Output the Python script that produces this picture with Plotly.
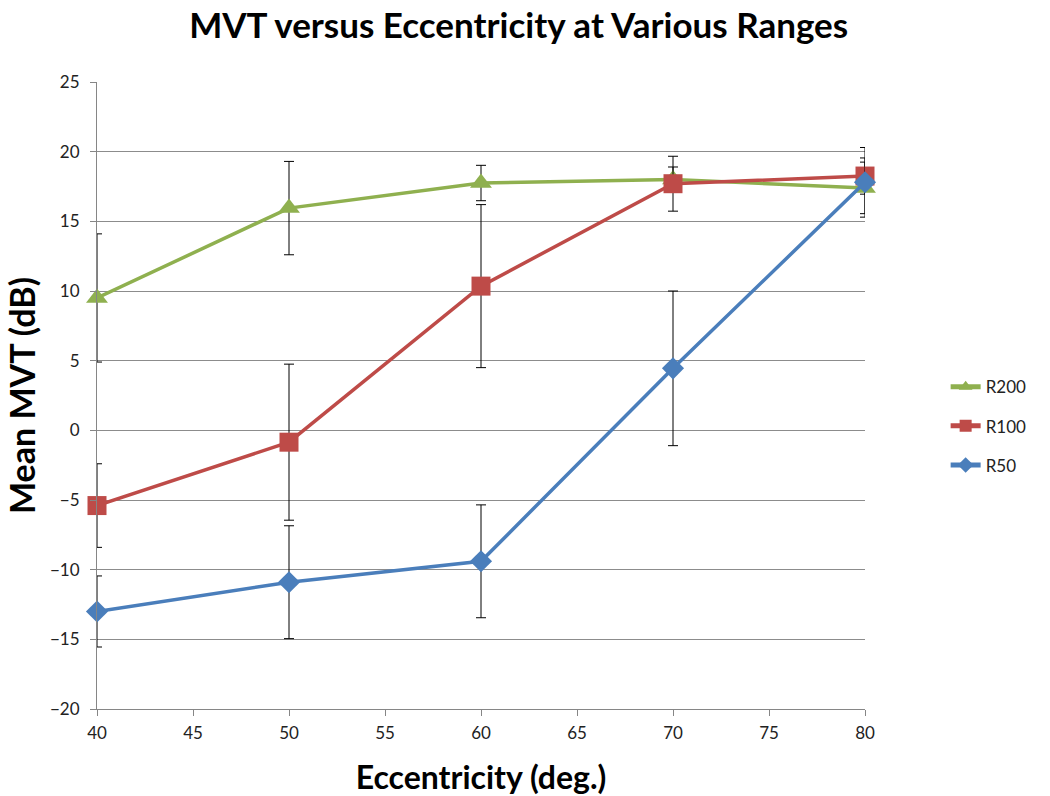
import plotly.graph_objects as go

# Eccentricity (deg.) sampled for each range
eccentricity = [40, 50, 60, 70, 80]

# Mean MVT (dB) and error-bar half-widths per range
r200_mean = [9.5, 15.95, 17.75, 18.0, 17.4]
r200_err = [4.6, 3.35, 1.27, 0.9, 1.85]

r100_mean = [-5.4, -0.85, 10.35, 17.7, 18.25]
r100_err = [3.0, 5.6, 5.85, 1.97, 1.3]

r50_mean = [-13.0, -10.9, -9.4, 4.45, 17.8]
r50_err = [2.55, 4.05, 4.05, 5.55, 2.5]

x_ticks = [40, 45, 50, 55, 60, 65, 70, 75, 80]
y_ticks = [-20, -15, -10, -5, 0, 5, 10, 15, 20, 25]

series = [
    ("R200", r200_mean, r200_err, "#8FB04F", "triangle-up", 19),
    ("R100", r100_mean, r100_err, "#BE4B48", "square", 19),
    ("R50", r50_mean, r50_err, "#4A7EBB", "diamond", 17),
]

fig = go.Figure()
for name, mean, err, color, symbol, size in series:
    fig.add_trace(go.Scatter(
        x=eccentricity,
        y=mean,
        name=name,
        legendgroup=name,
        mode="lines+markers",
        cliponaxis=False,
        line=dict(color=color, width=3.5),
        marker=dict(symbol=symbol, size=size, color=color),
        error_y=dict(type="data", array=err, visible=True,
                     color="black", thickness=1, width=5),
    ))

font_family = "Lato, 'Open Sans', sans-serif"
axis_font = dict(family=font_family, size=17, color="#222222")

fig.update_layout(
    width=1050,
    height=796,
    paper_bgcolor="white",
    plot_bgcolor="white",
    margin=dict(l=97, r=185, t=82, b=87),
    title=dict(
        text="<b>MVT versus Eccentricity at Various Ranges</b>",
        x=0.494, xanchor="center", y=0.968, yanchor="middle",
        font=dict(family=font_family, size=35, color="black"),
    ),
    xaxis=dict(
        range=[40, 80],
        tickvals=x_ticks,
        automargin=False,
        ticks="outside", ticklen=6, tickcolor="#868686",
        ticklabelstandoff=3,
        showline=True, linecolor="#868686", linewidth=1,
        showgrid=False, zeroline=False,
        tickfont=axis_font,
        title=dict(text="<b>Eccentricity (deg.)</b>",
                   font=dict(family=font_family, size=32, color="black"),
                   standoff=25),
    ),
    yaxis=dict(
        range=[-20, 25],
        tickvals=y_ticks,
        automargin=False,
        ticks="outside", ticklen=6, tickcolor="#868686",
        ticklabelstandoff=7,
        showline=True, linecolor="#868686", linewidth=1,
        showgrid=True, gridcolor="#8C8C8C", gridwidth=1,
        zeroline=False,
        tickfont=axis_font,
        title=dict(text="<b>Mean MVT (dB)</b>",
                   font=dict(family=font_family, size=34, color="black"),
                   standoff=4),
    ),
    legend=dict(
        x=1.105, xanchor="left", y=0.451, yanchor="middle",
        font=dict(family=font_family, size=17, color="#222222"),
        tracegroupgap=14,
        itemsizing="constant",
        bgcolor="rgba(0,0,0,0)",
    ),
    showlegend=True,
)

fig.write_html("out.html")
